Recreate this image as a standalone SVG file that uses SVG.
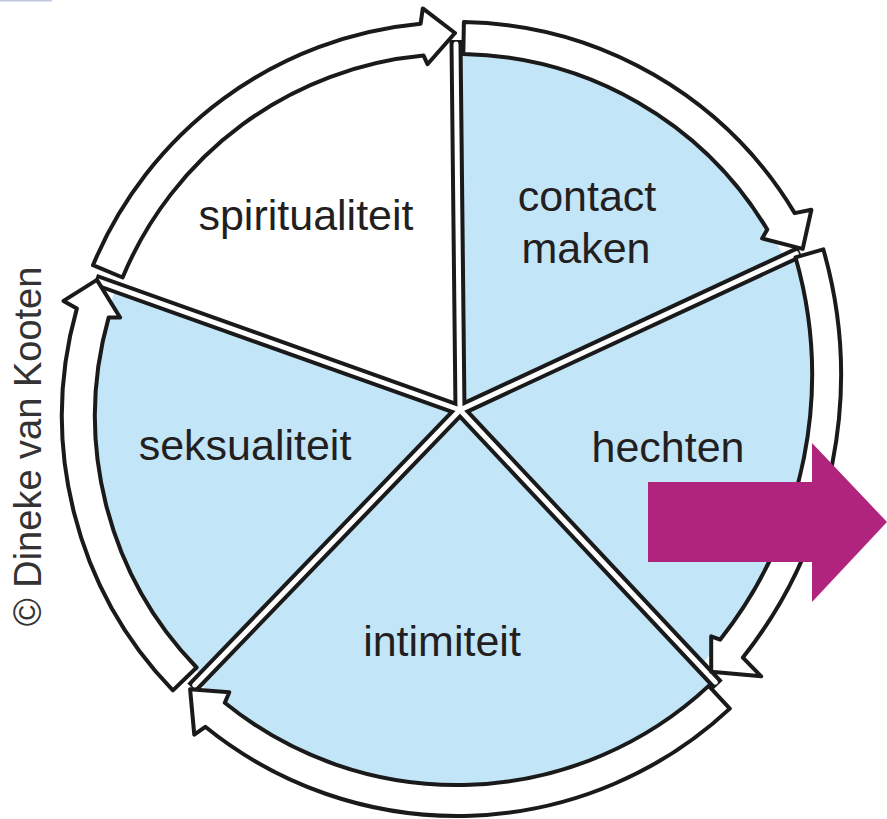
<svg xmlns="http://www.w3.org/2000/svg" width="887" height="819" viewBox="0 0 887 819">
<style>
.wedge{fill:#c3e5f8;stroke:none}
.white{fill:#ffffff;stroke:none}
.lbl{font-family:"Liberation Sans",Arial,sans-serif;font-size:43px;fill:#231f20;text-anchor:middle}
.divb{stroke:#1a1a1a;stroke-width:13;fill:none;stroke-linecap:butt}
.divw{stroke:#ffffff;stroke-width:5;fill:none;stroke-linecap:round}
.ring{fill:#ffffff;stroke:#1a1a1a;stroke-width:4;stroke-linejoin:round}
</style>
<rect x="0" y="0" width="52" height="1.5" fill="#c2c6e3"/>
<g id="spiritualiteit">
<path class="white" d="M460,410 L116,288 A364,364 0 0 1 456,52 Z"/>
<text class="lbl" x="306" y="230">spiritualiteit</text>
</g>
<g id="contact-maken">
<path class="wedge" d="M460,410 L456,52 A364,364 0 0 1 785,259 Z"/>
<text class="lbl" x="587" y="211">contact</text>
<text class="lbl" x="586" y="263">maken</text>
</g>
<g id="hechten">
<path class="wedge" d="M460,410 L796,254 A429,429 0 0 1 700,666 Z"/>
<text class="lbl" x="668" y="462">hechten</text>
</g>
<g id="intimiteit">
<path class="wedge" d="M460,410 L715,682 A371,371 0 0 1 198,682 Z"/>
<text class="lbl" x="442" y="656">intimiteit</text>
</g>
<g id="seksualiteit">
<path class="wedge" d="M460,410 L203,677 A364,364 0 0 1 116,288 Z"/>
<text class="lbl" x="245" y="460">seksualiteit</text>
</g>
<g id="dividers">
<line class="divb" x1="460" y1="410" x2="456" y2="40"/>
<line class="divb" x1="460" y1="410" x2="800" y2="252"/>
<line class="divb" x1="460" y1="410" x2="718" y2="685"/>
<line class="divb" x1="460" y1="410" x2="192" y2="688"/>
<line class="divb" x1="460" y1="410" x2="95" y2="280"/>
<line class="divw" x1="460" y1="410" x2="456" y2="44"/>
<line class="divw" x1="460" y1="410" x2="796.4" y2="253.7"/>
<line class="divw" x1="460" y1="410" x2="715.3" y2="682.1"/>
<line class="divw" x1="460" y1="410" x2="194.8" y2="685.1"/>
<line class="divw" x1="460" y1="410" x2="98.8" y2="281.3"/>
</g>
<g id="connectors">
<path class="ring" d="M93,265.2 A394,394 0 0 1 420.6,23.7 L422.8,8.4 L455,33 L427.5,64.2 L423.6,55.6 A362,362 0 0 0 122.6,277.5 Z"/>
<path class="ring" d="M463.9,22.1 A394,394 0 0 1 794.7,213.1 L811.4,209.8 L802.7,248.9 L762.1,238.4 L767.3,229.6 A362,362 0 0 0 463.3,54.1 Z"/>
<path class="ring" d="M823.3,249.3 A456,456 0 0 1 742.9,657.6 L761.2,676.3 L711.2,671.8 L711.2,636.3 L720.1,639.7 A427,427 0 0 0 795.5,257.3 Z"/>
<path class="ring" d="M729.8,708.6 A400,400 0 0 1 205.3,726.8 L194.3,734.7 L190.1,689.2 L229.3,692.2 L224.8,702.8 A369,369 0 0 0 708.7,685.9 Z"/>
<path class="ring" d="M172.9,690.4 A395,395 0 0 1 76.9,308.4 L63.5,300.9 L96.9,279.9 L120.1,317.5 L108.7,317.4 A362,362 0 0 0 196.6,667.5 Z"/>
</g>
<g id="magenta-arrow">
<polygon points="648,482 812,482 812,443 887,522 812,602 812,562 648,562" fill="#b0247d"/>
</g>
<g id="copyright">
<text transform="translate(41,446.5) rotate(-90)" x="0" y="0" font-family="Liberation Sans, Arial, sans-serif" font-size="38" fill="#333333" text-anchor="middle">© Dineke van Kooten</text>
</g>
</svg>
